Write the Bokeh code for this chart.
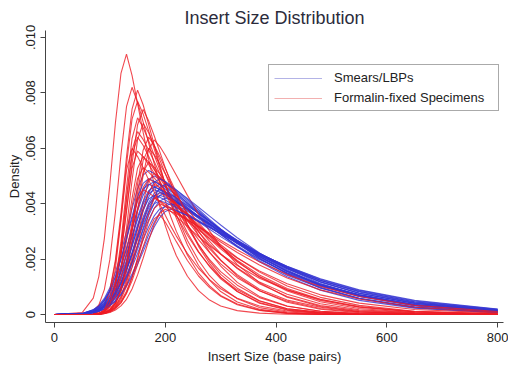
from bokeh.plotting import figure
from bokeh.models import (Range1d, FixedTicker, CustomJSTickFormatter, Legend, LegendItem,
                          ColumnDataSource)
from bokeh.embed import file_html
from bokeh.resources import INLINE

# ---------------- data ----------------
# insert size grid (base pairs)
insert_size = [0, 50, 70, 80, 90, 100, 110, 120, 130, 140, 150, 160, 170, 180, 190,
               200, 210, 220, 240, 260, 280, 300, 330, 370, 420, 480, 550, 650, 800]

# density curves, in units of 1e-5
formalin_density = [
    [0,7,59,137,274,470,691,870,940,863,761,658,560,470,390,321,262,212,138,86,52,31,14,5,1,0,0,0,0],
    [0,1,11,34,90,199,370,576,750,820,766,695,619,545,476,410,352,300,214,149,103,69,38,16,5,1,0,0,0],
    [0,0,3,11,34,89,197,365,569,741,810,757,686,612,539,470,405,347,251,177,124,83,45,19,6,1,0,0,0],
    [0,0,3,10,32,85,187,347,541,705,770,724,663,598,533,471,413,360,267,196,140,100,57,25,9,3,1,0,0],
    [0,0,1,5,17,46,108,216,370,544,685,740,699,645,588,530,474,420,325,246,184,135,83,41,16,5,1,0,0],
    [0,0,1,3,13,44,121,261,456,635,710,675,627,575,523,472,423,377,295,227,173,129,83,43,18,6,2,0,0],
    [0,0,1,2,9,29,76,168,311,484,631,690,656,609,559,509,459,411,325,253,193,145,95,50,21,8,2,0,0],
    [0,0,1,3,12,41,112,243,424,591,660,632,594,552,509,466,425,385,314,251,198,155,106,61,30,12,4,1,0],
    [0,0,0,1,5,15,40,93,187,320,470,593,640,611,571,527,483,440,358,286,225,175,116,65,31,12,3,1,0],
    [0,0,1,2,6,17,39,82,153,255,379,502,595,630,607,575,539,503,430,362,301,247,180,115,62,29,11,3,0],
    [0,0,0,3,11,37,100,217,379,528,590,570,542,510,478,445,413,382,323,270,223,183,133,86,48,22,9,2,0],
    [0,0,1,4,13,36,83,166,285,419,528,570,551,523,493,462,430,399,340,285,237,195,144,91,52,26,10,2,0],
    [0,0,1,2,7,20,48,101,186,299,420,514,550,532,508,480,451,422,366,312,264,220,166,111,65,32,14,4,0],
    [0,0,1,4,12,33,77,155,265,390,491,530,514,493,470,445,419,394,344,298,254,217,168,117,73,39,17,6,1],
    [0,0,1,2,5,14,32,66,124,207,307,406,482,510,495,474,452,428,379,331,287,245,192,135,85,46,22,7,1],
    [0,0,1,2,6,18,43,90,166,267,374,458,490,477,459,440,418,397,354,312,273,237,189,137,89,51,26,9,2],
    [0,0,0,2,5,13,29,61,114,190,282,375,444,470,457,440,422,401,360,319,280,243,195,143,94,55,27,10,2],
    [0,0,1,3,10,28,66,131,225,331,417,450,439,425,408,390,372,354,317,281,248,218,177,131,89,54,29,11,2],
    [0,0,0,1,4,9,20,42,78,133,204,286,363,419,440,429,414,397,360,323,286,252,205,153,103,62,33,12,3],
    [0,0,0,1,4,11,26,55,102,170,252,335,397,420,410,398,384,369,337,305,274,244,204,157,111,71,41,18,5],
    [0,0,1,2,5,12,25,48,84,135,200,271,336,383,400,391,382,370,343,316,288,262,224,179,132,89,56,26,8],
    [0,0,1,2,5,11,23,43,76,122,180,244,303,345,360,334,299,263,195,139,97,66,35,15,4,1,0,0,0],
    [0,0,0,1,3,7,16,31,55,92,143,203,267,325,365,380,372,364,342,318,293,268,233,190,144,101,65,33,11],
    [0,0,1,3,17,61,166,338,520,600,570,530,486,442,399,358,319,283,220,167,126,93,59,31,13,4,1,0,0],
    [0,0,0,1,4,14,38,88,175,300,441,556,600,577,544,508,472,434,364,300,244,197,139,86,44,19,7,2,0],
    [0,0,1,3,12,40,109,236,411,573,640,611,571,527,483,440,397,358,286,225,175,134,89,49,21,8,2,0,0],
]

smears_density = [
    [0,4,17,33,58,97,151,221,301,382,454,503,520,509,495,477,459,440,402,364,328,292,245,190,136,88,51,23,6],
    [0,3,13,25,44,73,115,170,236,310,382,444,486,500,490,477,461,444,409,373,338,305,258,203,147,98,59,27,8],
    [0,4,17,30,51,82,123,177,240,308,374,430,467,480,471,459,445,430,398,366,335,304,262,209,156,107,72,35,11],
    [0,3,12,21,36,59,91,134,187,248,312,373,424,458,470,462,449,434,403,371,338,307,263,210,155,105,65,31,9],
    [0,3,16,29,53,88,137,200,272,345,410,454,470,462,450,437,423,408,377,347,317,289,248,200,150,103,66,34,10],
    [0,2,8,16,28,48,77,116,166,225,289,351,403,438,450,443,432,420,392,365,336,308,268,220,168,118,77,40,14],
    [0,3,12,23,40,66,103,153,212,279,343,399,437,450,443,432,421,408,381,353,326,299,261,214,165,117,77,41,14],
    [0,3,9,16,28,44,69,102,143,193,248,305,358,401,430,440,432,421,394,365,336,307,265,215,161,104,70,34,11],
    [0,2,8,15,27,46,73,111,159,215,276,335,385,418,430,424,414,403,379,353,328,302,266,220,172,124,83,45,17],
    [0,2,10,18,34,58,92,139,196,260,324,379,417,430,423,413,401,389,362,335,308,281,244,199,151,107,70,35,12],
    [0,2,9,16,26,42,66,97,137,184,236,291,342,383,410,420,413,404,381,356,330,304,267,221,171,123,81,43,16],
    [0,3,10,18,32,51,80,117,163,216,272,326,370,400,410,404,395,385,363,339,315,292,257,215,169,124,84,46,18],
    [0,2,7,12,20,33,51,75,107,146,191,239,288,332,368,392,400,394,373,349,324,299,262,216,166,118,77,40,14],
    [0,2,8,14,24,39,61,90,127,171,220,270,317,356,381,390,385,376,357,336,314,292,259,218,174,129,89,51,20],
    [0,3,14,27,49,85,135,200,276,355,424,473,490,481,468,453,437,420,387,353,320,289,245,194,142,96,59,27,8],
    [0,2,9,17,31,52,83,126,181,245,315,382,439,477,490,480,466,450,415,379,343,309,260,203,147,96,57,25,7],
    [0,3,12,23,40,67,105,156,217,285,351,408,447,460,452,441,428,414,385,355,325,296,255,207,155,108,69,35,12],
    [0,1,6,12,21,36,59,91,134,187,248,312,373,424,458,470,462,449,419,387,355,323,277,222,165,112,70,34,10],
    [0,2,7,12,19,32,48,71,102,138,181,227,273,316,350,372,380,374,357,336,315,292,260,219,173,127,87,49,19],
    [0,2,8,15,28,47,75,113,162,220,282,343,394,428,440,433,422,409,382,353,325,297,257,209,158,110,70,35,11],
]

density_unit = 1e-5
x_ticks = [0, 200, 400, 600, 800]
y_ticks = [0, 0.002, 0.004, 0.006, 0.008, 0.010]
legend_labels = ["Smears/LBPs", "Formalin-fixed Specimens"]
title_text = "Insert Size Distribution"

# ---------------- styling ----------------
FONT = "Liberation Sans"
RED = "#EE1C24"
BLUE = "#3434D2"

p = figure(width=508, height=366, output_backend="svg", toolbar_location=None,
           x_range=Range1d(-16.2, 810.5), y_range=Range1d(-0.000288, 0.01025),
           min_border_left=45, min_border_right=5, min_border_top=30, min_border_bottom=43,
           title=title_text)
p.outline_line_color = None
p.grid.visible = False
p.background_fill_color = "white"
p.border_fill_color = "white"

p.title.align = "center"
p.title.text_font = FONT
p.title.text_font_size = "18px"
p.title.text_font_style = "normal"
p.title.text_color = "#2B2B3B"
p.title.standoff = 6

n = max(len(formalin_density), len(smears_density))
for i in range(n):
    if i < len(formalin_density):
        ys = [v * density_unit for v in formalin_density[i]]
        p.line(insert_size, ys, line_color=RED, line_width=1.1, line_alpha=0.8)
    if i < len(smears_density):
        ys = [v * density_unit for v in smears_density[i]]
        p.line(insert_size, ys, line_color=BLUE, line_width=1.1, line_alpha=0.8)

for ax in (p.xaxis[0], p.yaxis[0]):
    ax.axis_line_color = "#444444"
    ax.major_tick_line_color = "#444444"
    ax.minor_tick_line_color = None
    ax.major_tick_in = 0
    ax.major_tick_out = 5
    ax.major_label_text_font = FONT
    ax.major_label_text_font_size = "13px"
    ax.major_label_text_color = "#222222"
    ax.axis_label_text_font = FONT
    ax.axis_label_text_font_size = "13px"
    ax.axis_label_text_font_style = "normal"
    ax.axis_label_text_color = "#222222"

p.xaxis.ticker = FixedTicker(ticks=x_ticks)
p.xaxis.axis_label = "Insert Size (base pairs)"
p.xaxis.major_label_standoff = 5
p.xaxis.axis_label_standoff = 4

p.yaxis.ticker = FixedTicker(ticks=y_ticks)
p.yaxis.formatter = CustomJSTickFormatter(
    code="return Math.abs(tick) < 1e-12 ? '0' : tick.toFixed(3).replace(/^0/, '');")
p.yaxis.major_label_orientation = "vertical"
p.yaxis.axis_label = "Density"
p.yaxis.major_label_standoff = 5
p.yaxis.axis_label_standoff = 2

# legend with pale sample lines (renderers hold no visible data)
nan = float("nan")
dummy = ColumnDataSource(data=dict(x=[nan], y=[nan]))
lb = p.line("x", "y", source=dummy, line_color="#B3B3E6", line_width=1.2)
lr = p.line("x", "y", source=dummy, line_color="#F2B0B0", line_width=1.2)
legend = Legend(items=[LegendItem(label=legend_labels[0], renderers=[lb]),
                       LegendItem(label=legend_labels[1], renderers=[lr])],
                location=(223, 211), orientation="vertical")
legend.border_line_color = "#555555"
legend.border_line_width = 1
legend.background_fill_color = "white"
legend.background_fill_alpha = 1
legend.padding = 5
legend.spacing = 5
legend.margin = 0
legend.label_height = 14
legend.glyph_height = 14
legend.glyph_width = 48
legend.label_standoff = 12
legend.label_width = 159
legend.label_text_font = FONT
legend.label_text_font_size = "13px"
legend.label_text_color = "#222222"
p.add_layout(legend)

open("out.html", "w").write(file_html(p, INLINE))
